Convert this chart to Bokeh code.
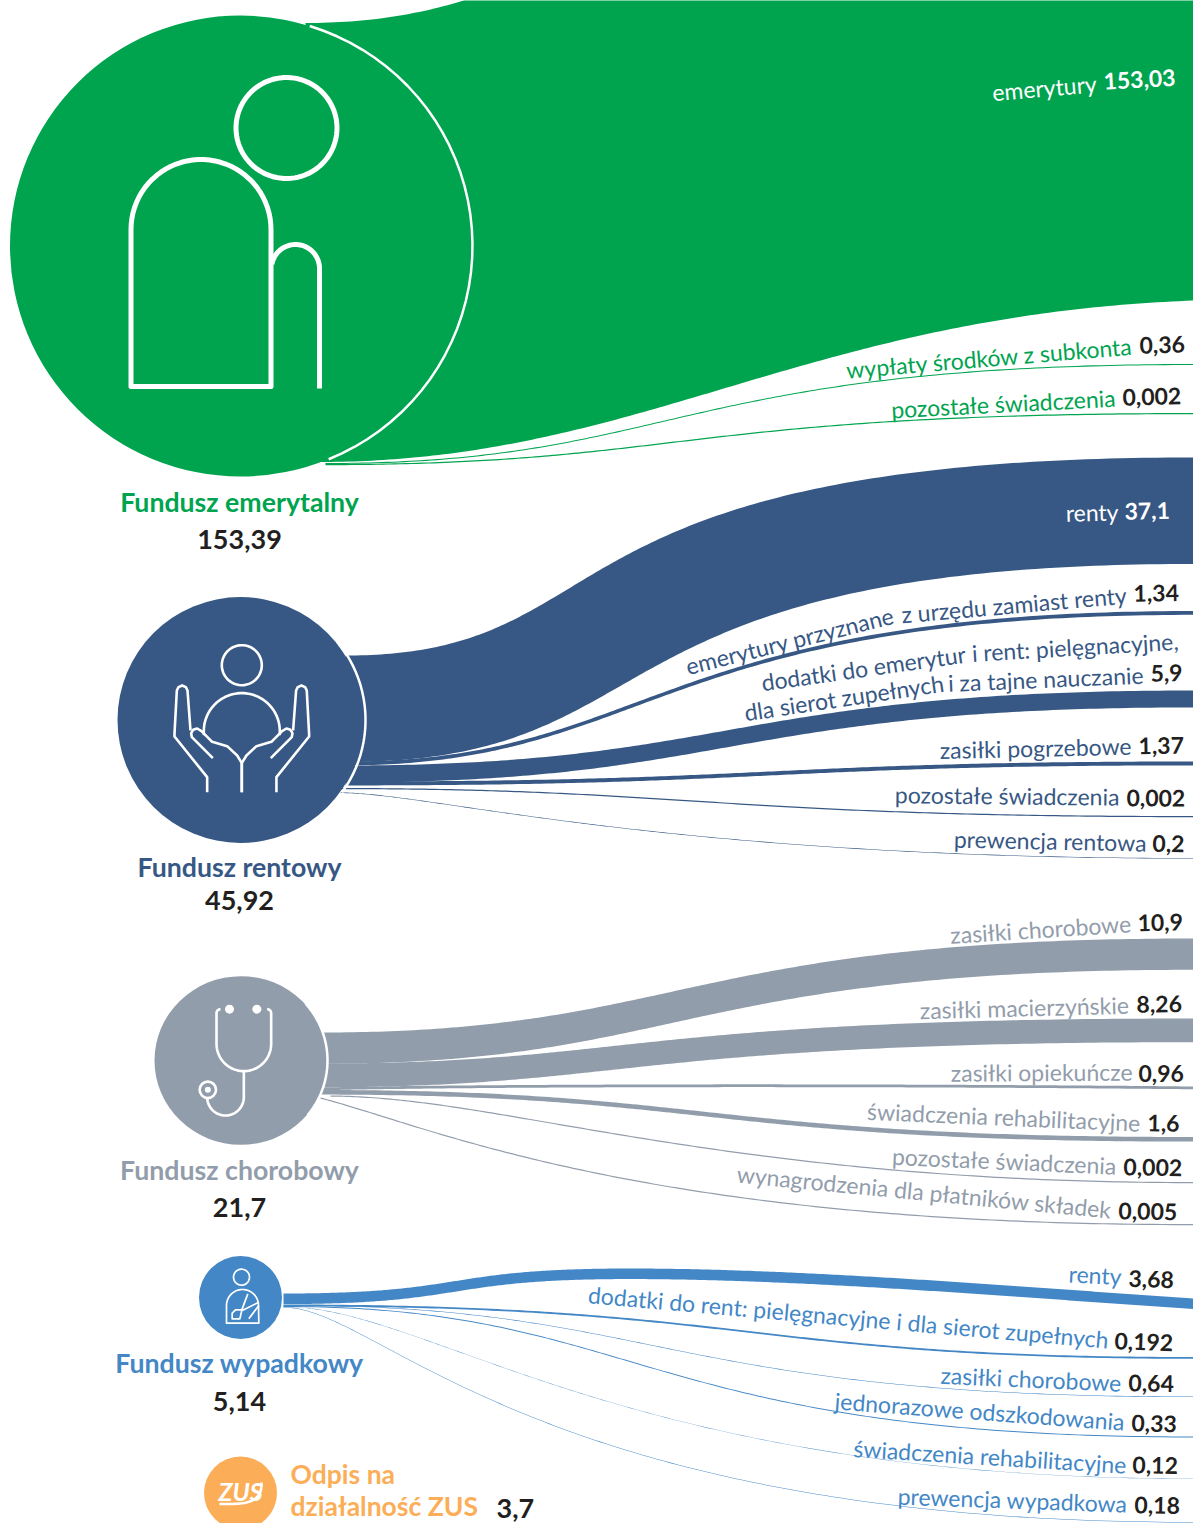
import numpy as np
from bokeh.plotting import figure
from bokeh.models import Range1d
from bokeh.core.properties import value as V
from bokeh.embed import file_html
from bokeh.resources import INLINE

# ---------- data ----------
GREEN, BLUE, GREY, LBLUE, ORANGE, INK = "#00A44F", "#375884", "#929DAB", "#4387C6", "#FBAE57", "#231F20"

fund_names = ["Fundusz emerytalny", "Fundusz rentowy", "Fundusz chorobowy", "Fundusz wypadkowy"]
fund_values = ["153,39", "45,92", "21,7", "5,14"]
fund_colors = [GREEN, BLUE, GREY, LBLUE]

link_labels = [
    "emerytury", "wypłaty środków z subkonta", "pozostałe świadczenia",
    "renty", "emerytury przyznane|z urzędu zamiast renty",
    "dodatki do emerytur|i rent: pielęgnacyjne,|dla sierot zupełnych|i za tajne nauczanie",
    "zasiłki pogrzebowe", "pozostałe świadczenia", "prewencja rentowa",
    "zasiłki chorobowe", "zasiłki macierzyńskie", "zasiłki opiekuńcze",
    "świadczenia rehabilitacyjne", "pozostałe świadczenia", "wynagrodzenia dla płatników składek",
    "renty", "dodatki do rent: pielęgnacyjne i dla sierot zupełnych", "zasiłki chorobowe",
    "jednorazowe odszkodowania", "świadczenia rehabilitacyjne", "prewencja wypadkowa",
]
link_texts = ["153,03", "0,36", "0,002", "37,1", "1,34", "5,9", "1,37", "0,002", "0,2", "10,9", "8,26", "0,96",
              "1,6", "0,002", "0,005", "3,68", "0,192", "0,64", "0,33", "0,12", "0,18"]
# the amounts the ribbons are drawn with (in the picture the 0,192 and 0,64 ribbons are swapped)
link_values = [153.03, 0.36, 0.002, 37.1, 1.34, 5.9, 1.37, 0.002, 0.2, 10.9, 8.26, 0.96, 1.6, 0.002, 0.005,
               3.68, 0.64, 0.192, 0.33, 0.12, 0.18]

# ---------- layout ----------
PX_PER_UNIT = 2.87
link_colors = [GREEN]*3 + [BLUE]*6 + [GREY]*6 + [LBLUE]*6
# left x, left top y, right top y, control x left, control x right, optional control y
geom = [
    None,
    (325, 462.5, 363.5, 673, 673, None, None),
    (325, 463.5, 412.5, 680, 680, None, None),
    None,
    (345, 761, 610.5, 650, 650, None, None),
    (345, 765, 690, 730, 730, None, None),
    (345, 781, 761, 770, 770, None, None),
    (340, 787.5, 815.5, 680, 720, None, None),
    (340, 792, 857.5, 430, 660, None, None),
    (320, 1032, 938, 681, 681, None, None),
    (320, 1063, 1018, 628, 628, None, None),
    (320, 1087, 1086, 500, 900, 1083, 1083),
    (320, 1089.5, 1136.5, 708, 708, None, None),
    (330, 1095, 1181.5, 500, 720, None, None),
    (320, 1097, 1223.5, 430, 640, 1125, 1224),
]
wyp_geom = [
    (283, 1304, 1356.5, 749, 749, None, None),
    (283, 1304.5, 1396, 660, 660, None, None),
    (283, 1305.5, 1436, 640, 640, None, None),
    (283, 1306, 1478, 430, 620, None, None),
    (283, 1306.5, 1521.5, 380, 530, None, None),
]

def bez(x0, y0, cx0, cy0, cx1, cy1, x1, y1, n=160):
    t = np.linspace(0, 1, n)
    a, b, c, d = (1-t)**3, 3*(1-t)**2*t, 3*(1-t)*t**2, t**3
    return a*x0+b*cx0+c*cx1+d*x1, a*y0+b*cy0+c*cy1+d*y1

def thickness(v):
    w = v*PX_PER_UNIT
    return 1.2 if v < 0.01 else w

p = figure(width=1193, height=1523, x_range=Range1d(0, 1193), y_range=Range1d(1523, 0),
           output_backend="svg", toolbar_location=None, min_border=0, outline_line_color=None)
p.axis.visible = False
p.grid.visible = False
p.background_fill_color = "white"
p.border_fill_color = "white"

def ribbon(xs, ys, w, color):
    p.patch(np.r_[xs, xs[::-1]], np.r_[ys, (ys+w)[::-1]], fill_color=color, line_color=None)

X1 = 1193
# emerytury: top and bottom edges spread out of the picture
xt, yt = bez(305, 22.5, 620, 22.5, 620, -195, X1, -195)
xb, yb = bez(318, 461.5, 640, 461.5, 800, 315, X1, 300)
p.patch(np.r_[xt, xb[::-1]], np.r_[yt, yb[::-1]], fill_color=GREEN, line_color=None)

# renty: the ribbon keeps its thickness across the slope, so its edges differ
R = thickness(link_values[3])
xt, yt = bez(345, 655, 630, 655, 520, 457, X1, 457)
xb, yb = bez(345, 655+R, 680, 655+R, 570, 457+R, X1, 457+R)
p.patch(np.r_[xt, xb[::-1]], np.r_[yt, yb[::-1]], fill_color=BLUE, line_color=None)

for i, g in enumerate(geom):
    if g is None:
        continue
    x0, y0, y1, c0, c1, cy0, cy1 = g
    xs, ys = bez(x0, y0, c0, y0 if cy0 is None else cy0, c1, y1 if cy1 is None else cy1, X1, y1)
    ribbon(xs, ys, thickness(link_values[i]), link_colors[i])

# wypadkowy "renty" goes up and back down
w = thickness(link_values[15])
xa, ya = bez(283, 1293, 470, 1293, 440, 1268, 629, 1268)
xb, yb = bez(629, 1268, 800, 1268, 1000, 1285, X1, 1298)
ribbon(np.r_[xa, xb], np.r_[ya, yb], w, LBLUE)
for i, g in enumerate(wyp_geom):
    x0, y0, y1, c0, c1, _, _ = g
    xs, ys = bez(x0, y0, c0, y0, c1, y1, X1, y1)
    ribbon(xs, ys, thickness(link_values[16+i]), LBLUE)

# circles
cx = [240, 240, 240, 240]
cy = [245.5, 719.5, 1297, 1492.5]
cr = [230.5, 123, 41.5, 36.5]
ccol = [GREEN, BLUE, LBLUE, ORANGE]
p.circle(cx, cy, radius=cr, fill_color=ccol, line_color=None)
p.ellipse([240.5], [1060], width=[173], height=[168.6], fill_color=GREY, line_color=None)

def arc(cx_, cy_, r, a0, a1, n=40):
    a = np.radians(np.linspace(a0, a1, n))
    return cx_+r*np.cos(a), cy_-r*np.sin(a)

def wl(x, y, w=2.5):
    p.line(x, y, line_color="white", line_width=w, line_join="round", line_cap="butt")

# white rim on the side the ribbons leave from
for (rx, ry, rr, ra, rb) in [(242, 245.5, 230, 73, -68), (242, 719.5, 123, 36, -36), (242, 1060, 85, 42, -40)]:
    x, y = arc(rx, ry, rr, ra, rb)
    wl(x, y, 2.5)

# ---------- icons ----------
# retiree
x, y = arc(286, 127.5, 50.5, 0, 360, 90); wl(x, y, 5)
x, y = arc(200.5, 229, 70, 180, 0)
wl(np.r_[130.5, x, 270.5, 270.5, 130.5, 130.5], np.r_[386, y, 386, 386, 386, 229], 5)
x, y = arc(295, 268, 24, 170, 0)
wl(np.r_[x, 319], np.r_[y, 388], 5)

# hands (mirrored around x = 241.3)
def zm(px, py, ox, oy):
    return ox+np.array(px, float)/3, oy+np.array(py, float)/3
x, y = arc(241.3, 664.7, 20, 0, 360, 60); wl(x, y, 2.6)
x, y = arc(241.3, 730.6, 38, 186, -6); wl(x, y, 2.6)
for s in (1, -1):
    ox, oy = zm([320, 320, 222, 222, 229, 234, 245, 256, 261, 270], [635, 590, 468, 460, 330, 320, 315, 320, 330, 450], 100, 580)
    wl(241.3+s*(ox-241.3), oy, 2.6)
    ox, oy = zm([337, 274, 272, 278, 290, 303, 335, 345, 380, 410, 424, 424], [533, 470, 458, 448, 444, 452, 484, 487, 497, 525, 548, 635], 100, 580)
    wl(241.3+s*(ox-241.3), oy, 2.6)

# stethoscope
x, y = arc(140+310/3, 960+250/3, 82/3, 180, 360)
x2, y2 = arc(140+240/3, 960+158/3, 12/3, 90, 180, 8)
x3, y3 = arc(140+380/3, 960+158/3, 12/3, 0, 90, 8)
wl(np.r_[x2, x, x3], np.r_[y2, y, y3], 2.6)
p.circle(140+np.array([267, 349])/3, [960+146/3]*2, radius=4.5, fill_color="white", line_color=None)
x, y = arc(140+255/3, 960+410/3, 55/3, 0, -180)
wl(np.r_[140+310/3, x], np.r_[960+330/3, y], 2.6)
p.circle([140+202/3], [960+388/3], radius=8.2, fill_color=GREY, line_color="white", line_width=2.6)
p.circle([140+202/3], [960+388/3], radius=3, fill_color="white", line_color=None)

# arm in a sling
x, y = arc(190+153/3, 1250+80/3, 8, 0, 360, 40); wl(x, y, 1.7)
x, y = arc(190+156/3, 1250+165/3, 48/3, 180, 0)
wl(np.r_[x, 190+205/3, 190+108/3, 190+108/3], np.r_[y, 1250+218/3, 1250+218/3, 1250+165/3], 1.7)
ox, oy = zm([172, 155, 148, 125, 125, 135, 160, 205], [130, 175, 205, 205, 188, 178, 178, 155], 190, 1250); wl(ox, oy, 1.7)
ox, oy = zm([175, 205], [205, 165], 190, 1250); wl(ox, oy, 1.7)

# ZUS logo swoosh
x, y = bez(219, 1503.5, 240, 1503.5, 262, 1505, 261, 1482, 30)
wl(x, y, 2.6)

# ---------- text ----------
FONT = V("Lato")
BASE = 0.34
def txt(x, y, s, color, size=23, angle=0, align="left", bold=False):
    p.text([x], [y-BASE*size], text=[s], text_color=color, text_font=FONT, text_font_size=f"{size}px",
           text_font_style="bold" if bold else "normal", text_align=align, text_baseline="alphabetic",
           angle=[angle], angle_units="deg")

lab_pos = [  # label right end x, y, angle; value left x, y, angle
    (1096, 90.5, 5, 1103, 88.5, 3), (1132, 353, 4.8, 1139, 352.5, 1.5), (1115, 405, 3, 1122, 404.5, 1.5),
    (1118, 519, 1.2, 1124, 518.5, 1.2), None, None,
    (1131, 753, 1.3, 1138, 753, 0.7), (1119, 804, -0.6, 1126, 805, -0.5), (1146, 850, -1.2, 1152, 850.5, -1),
    (1130.5, 930.5, 3.7, 1137, 930, 1), (1128.5, 1012, 1.5, 1136, 1011.5, 0.7), (1132, 1079, 0.3, 1138, 1080.5, 0),
    (1140, 1130, -2.5, 1147, 1130, -1), (1116, 1173, -2.5, 1123, 1174, -1), (1111, 1217, -5.5, 1118, 1218, -1),
    (1121, 1283.5, -3, 1128, 1285.5, -2), (1108, 1347, -5, 1114, 1348, -2), (1121, 1390, -2.5, 1128, 1390, -1),
    (1124, 1429, -4.2, 1131, 1430, -1.5), (1126, 1472, -3.5, 1132, 1472, -1), (1127, 1511, -2, 1134, 1512, -1),
]
white_first = {0, 3}
for i, lp in enumerate(lab_pos):
    if lp is None:
        continue
    c = "white" if i in white_first else link_colors[i]
    txt(lp[0], lp[1], link_labels[i], c, 23, lp[2], "right")
    txt(lp[3], lp[4], link_texts[i], "white" if i in white_first else INK, 23, lp[5], "left", True)

# long labels that bend with their ribbons
a1, a2 = link_labels[4].split("|")
txt(893, 622, a1, BLUE, 23, 14, "right")
txt(1126, 602, a2, BLUE, 23, 5, "right")
txt(1133, 600.5, link_texts[4], INK, 23, 0.8, "left", True)
b1, b2, b3, b4 = link_labels[5].split("|")
txt(965, 661, b1, BLUE, 23, 8, "right")
txt(1178, 648, b2, BLUE, 23, 3.4, "right")
txt(943, 690, b3, BLUE, 23, 8.5, "right")
txt(1143, 682, b4, BLUE, 23, 2.4, "right")
txt(1150, 680.5, link_texts[5], INK, 23, 1, "left", True)

name_y = [511, 876, 1179, 1372]
val_y = [548, 909, 1216, 1410]
for n, v, c, ny, vy in zip(fund_names, fund_values, fund_colors, name_y, val_y):
    txt(239, ny, n, c, 26.7, 0, "center", True)
    txt(239, vy, v, INK, 27, 0, "center", True)

txt(290, 1483, "Odpis na", ORANGE, 26.5, 0, "left", True)
txt(290, 1515, "działalność ZUS", ORANGE, 26.5, 0, "left", True)
txt(496, 1517, "3,7", INK, 27, 0, "left", True)
p.text([240], [1490], text=["ZUS"], text_color="white", text_font=FONT, text_font_size="25px",
       text_font_style="bold italic", text_align="center", text_baseline="alphabetic")

open("out.html", "w").write(file_html(p, INLINE))
